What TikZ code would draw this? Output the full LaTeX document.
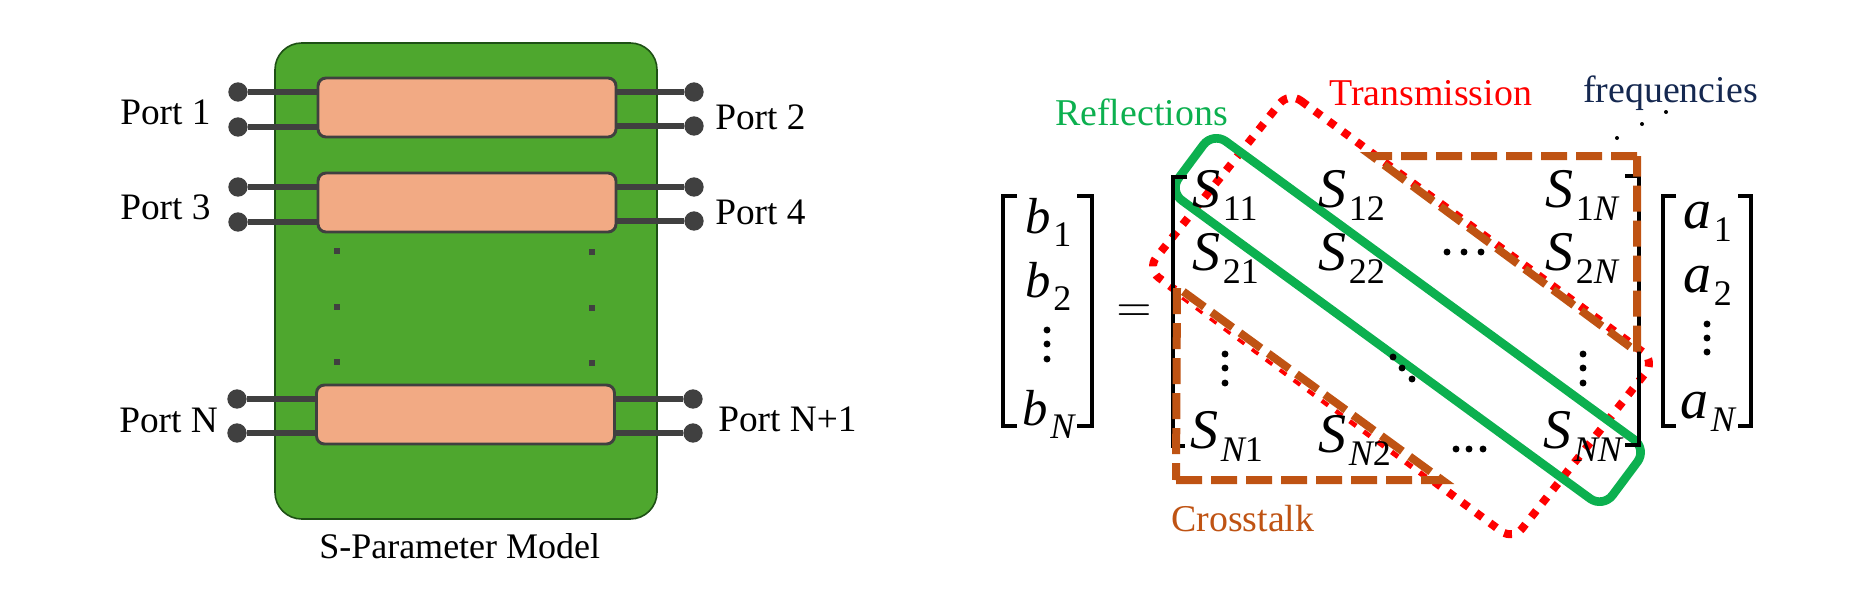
\documentclass[tikz,border=0pt]{standalone}
\usepackage{fontspec}
\setmainfont{Liberation Serif}
\definecolor{board}{HTML}{4EA72E}
\definecolor{boardedge}{HTML}{1E5015}
\definecolor{chip}{HTML}{F2AA84}
\definecolor{metal}{HTML}{404040}
\definecolor{refl}{HTML}{0CB04F}
\definecolor{cross}{HTML}{BF5313}
\definecolor{navy}{HTML}{152850}
\newcommand{\mv}[3]{{\fontsize{#1}{#1}\selectfont\itshape #2}\kern2pt\raisebox{-10pt}{\fontsize{27}{28}\selectfont #3}}
\newcommand{\nn}{{\itshape N}}
\tikzset{
  boardbox/.style={draw=boardedge,line width=1.2pt,fill=board,rounded corners=20pt,minimum width=286.5pt,minimum height=357pt,inner sep=0},
  chipbox/.style={draw=metal,line width=2.2pt,fill=chip,rounded corners=6pt,minimum width=223.5pt,minimum height=44.25pt,inner sep=0},
  pin/.style={circle,fill=metal,minimum size=14.5pt,inner sep=0},
  wire/.style={draw=metal,line width=4pt},
  tick/.style={fill=metal,minimum size=5pt,inner sep=0},
  lbl/.style={anchor=base west,inner sep=0,font=\fontsize{28}{30}\selectfont},
  tag/.style={anchor=base west,inner sep=0,font=\fontsize{28.4}{32}\selectfont},
  mth/.style={anchor=base west,inner sep=0},
  brk/.style={draw=black,line width=2.6pt,miter limit=10},
  transm/.style={draw=red,line width=6pt,dash pattern=on 6pt off 7pt,rounded corners=11pt},
  cover/.style={draw=white,line width=6.5pt},
  xtalk/.style={draw=cross,line width=6pt,dash pattern=on 19.5pt off 6.75pt},
  reflbox/.style={draw=refl,line width=6.5pt,rounded corners=12pt,line join=round},
  dotk/.style={circle,fill=black,minimum size=5.2pt,inner sep=0},
  dots/.style={circle,fill=black,minimum size=3pt,inner sep=0},
}
\begin{document}
\begin{tikzpicture}[x=0.75pt,y=-0.75pt]
\useasboundingbox (0,0) rectangle (1868,604);
% left: board
\node[boardbox] (board) at (466,281) {};
\node[chipbox] (c1) at (467,107.5) {};
\node[chipbox] (c2) at (467,202.5) {};
\node[chipbox] (c3) at (465.5,414.5) {};
\foreach \n/\x/\y in {l1/238/92,l2/238/127,l3/238/187,l4/238/222,l5/237/399,l6/237/433,
                      r1/694/92,r2/694/126,r3/694/187,r4/694/221,r5/693/399,r6/693/433}
  \node[pin] (\n) at (\x,\y) {};
\draw[wire] (l1) -- (l1 -| c1.west);
\draw[wire] (l2) -- (l2 -| c1.west);
\draw[wire] (l3) -- (l3 -| c2.west);
\draw[wire] (l4) -- (l4 -| c2.west);
\draw[wire] (l5) -- (l5 -| c3.west);
\draw[wire] (l6) -- (l6 -| c3.west);
\draw[wire] (r1) -- (r1 -| c1.east);
\draw[wire] (r2) -- (r2 -| c1.east);
\draw[wire] (r3) -- (r3 -| c2.east);
\draw[wire] (r4) -- (r4 -| c2.east);
\draw[wire] (r5) -- (r5 -| c3.east);
\draw[wire] (r6) -- (r6 -| c3.east);
\foreach \n/\x/\y in {t1/337/251,t2/337/307,t3/337/362,t4/592/252,t5/592/308,t6/592/363}
  \node[tick] (\n) at (\x,\y) {};
\node[lbl] (p1) at (120,124) {Port 1};
\node[lbl] (p2) at (715,129) {Port 2};
\node[lbl] (p3) at (120,219) {Port 3};
\node[lbl] (p4) at (715,224) {Port 4};
\node[lbl] (pn) at (119,432) {Port N};
\node[lbl] (pn1) at (718,431) {Port N+1};
\node[lbl,font=\fontsize{27}{30}\selectfont] (model) at (319,558) {S-Parameter Model};
% right: overlays
\coordinate (e) at (1289,92);
\coordinate (h) at (1655,361);
\coordinate (g) at (1513,540);
\coordinate (f) at (1147,269);
\draw[transm] (e) -- (h) -- (g) -- (f) -- cycle;
\coordinate (xa) at (1177,287);
\coordinate (xb) at (1442,480);
\coordinate (xc) at (1176,480);
\coordinate (ya) at (1372,156);
\coordinate (yb) at (1637,156);
\coordinate (yc) at (1637,352);
\draw[cover] (xa) -- (xb);
\coordinate (ga) at (1213,132);
\coordinate (gb) at (1647,449);
\coordinate (gc) at (1603,508);
\coordinate (gd) at (1169,191);
\draw[reflbox] (ga) -- (gb) -- (gc) -- (gd) -- cycle;
% brackets
\draw[brk] (1017,196) -- (1003,196) -- (1003,426) -- (1017,426);
\draw[brk] (1077,196) -- (1092,196) -- (1092,426) -- (1077,426);
\draw[brk] (1187,177) -- (1173,177) -- (1173,446) -- (1185,446);
\draw[brk] (1625,176) -- (1639,176) -- (1639,445) -- (1625,445);
\draw[brk] (1676,196) -- (1663,196) -- (1663,426) -- (1676,426);
\draw[brk] (1738,196) -- (1751,196) -- (1751,426) -- (1738,426);
\draw[xtalk] (xc) -- (xb) -- (xa) -- cycle;
\draw[xtalk] (yb) -- (ya) -- (yc) -- cycle;
% labels
\node[tag,text=refl] (lr) at (1055,125) {Reflections};
\node[tag,text=red] (lt) at (1329,105) {Transmission};
\node[tag,text=navy] (lf) at (1583,102) {frequencies};
\node[tag,text=cross] (lc) at (1171,531) {Crosstalk};
% maths
\node[mth] (b1) at (1025,233) {\mv{38}{b}{1}};
\node[mth] (b2) at (1025,297) {\mv{38}{b}{2}};
\node[mth] (bn) at (1022,425) {\mv{38}{b}{\nn}};
\node[inner sep=0,scale=3.4] (eq) at (1134,313) {$=$};
\node[mth] (s11) at (1192,207) {\mv{42}{S}{11}};
\node[mth] (s12) at (1318,207) {\mv{42}{S}{12}};
\node[mth] (s1n) at (1545,207) {\mv{42}{S}{1\nn}};
\node[mth] (s21) at (1192,270) {\mv{42}{S}{21}};
\node[mth] (s22) at (1318,270) {\mv{42}{S}{22}};
\node[mth] (s2n) at (1545,270) {\mv{42}{S}{2\nn}};
\node[mth] (sn1) at (1190,448) {\mv{42}{S}{\nn1}};
\node[mth] (sn2) at (1318,452) {\mv{42}{S}{\nn2}};
\node[mth] (snn) at (1543,448) {\mv{42}{S}{\nn\nn}};
\node[mth] (a1) at (1683,228) {\mv{42}{a}{1}};
\node[mth] (a2) at (1683,292) {\mv{42}{a}{2}};
\node[mth] (an) at (1680,418) {\mv{42}{a}{\nn}};
\foreach \n/\x/\y in {d1/1047/330,d2/1047/344,d3/1047/359,
   d4/1707/324,d5/1707/338,d6/1707/352,
   d7/1225/354,d8/1225/368,d9/1225/383,
   d10/1583/354,d11/1583/368,d12/1583/383,
   d13/1393/357,d14/1402/368,d15/1412/379,
   d16/1447/252,d17/1464/252,d18/1481/252,
   d19/1456/449,d20/1469/449,d21/1483/449}
  \node[dotk] (\n) at (\x,\y) {};
\foreach \n/\x/\y in {f1/1617/138,f2/1642/124,f3/1666/112}
  \node[dots] (\n) at (\x,\y) {};
\end{tikzpicture}
\end{document}
